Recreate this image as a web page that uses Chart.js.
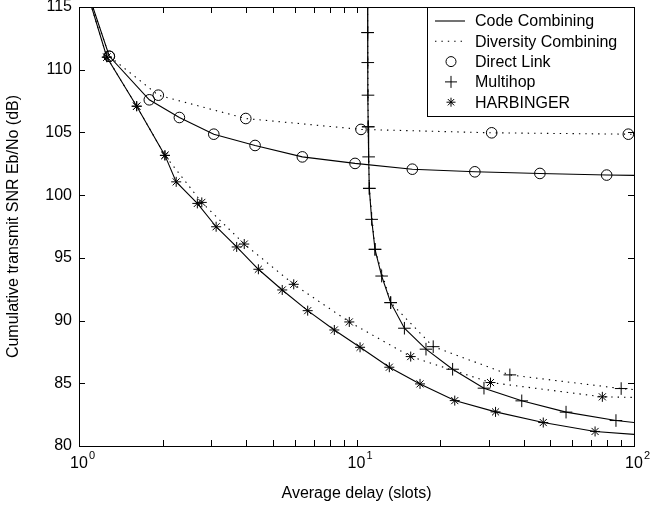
<!DOCTYPE html>
<html><head><meta charset="utf-8">
<script src="https://cdn.jsdelivr.net/npm/chart.js@4/dist/chart.umd.min.js"></script>
<style>html,body{margin:0;padding:0;background:#fff}</style>
</head><body>
<canvas id="c" width="670" height="510"></canvas>
<script>
// ---- data ----
const directCodeX = [1, 1.286, 1.792, 2.30, 3.06, 4.31, 6.38, 9.88, 15.89, 26.7, 45.8, 79.7, 100];
const directCodeY = [118.3, 111.07, 107.6, 106.19, 104.86, 103.96, 103.05, 102.53, 102.07, 101.86, 101.73, 101.6, 101.58];
const directDivX = [1, 1.286, 1.931, 3.99, 10.38, 30.7, 95.4, 100];
const directDivY = [118.3, 111.07, 107.97, 106.11, 105.24, 104.97, 104.86, 104.85];
const multiCodeX = [10.96, 10.97, 10.98, 11.0, 11.02, 11.06, 11.12, 11.34, 11.66, 12.32, 13.28, 14.88, 17.8, 22.2, 28.8, 39.4, 56.9, 86.1, 100];
const multiCodeY = [116, 112.96, 110.57, 107.97, 105.45, 103.05, 100.54, 98.07, 95.68, 93.55, 91.43, 89.39, 87.72, 86.12, 84.61, 83.6, 82.7, 82.03, 81.87];
const multiDivX = [10.96, 10.97, 11.02, 11.12, 11.66, 13.28, 18.9, 35.7, 89.9, 100];
const multiDivY = [116, 112.96, 105.45, 100.54, 95.68, 91.43, 87.92, 85.67, 84.58, 84.5];
const harbCodeX = [1, 1.26, 1.614, 2.04, 2.24, 2.67, 3.12, 3.70, 4.43, 5.40, 6.67, 8.32, 10.3, 13.13, 16.94, 22.6, 31.7, 47.1, 72.4, 100];
const harbCodeY = [118.3, 111.0, 107.09, 103.17, 101.06, 99.34, 97.48, 95.87, 94.09, 92.44, 90.79, 89.25, 87.87, 86.28, 84.95, 83.62, 82.72, 81.87, 81.16, 80.93];
const harbDivX = [1, 1.26, 1.614, 2.04, 2.77, 3.94, 5.94, 9.42, 15.68, 30.4, 76.9, 100];
const harbDivY = [118.3, 111.0, 107.09, 103.17, 99.42, 96.1, 92.89, 89.89, 87.13, 85.06, 83.92, 83.87];

const yTicks = [80, 85, 90, 95, 100, 105, 110, 115];
const xDecades = [1, 10, 100];
const xExponents = ['0', '1', '2'];
const legendLabels = ['Code Combining', 'Diversity Combining', 'Direct Link', 'Multihop', 'HARBINGER'];

const FONT = '"Liberation Sans", Arial, Helvetica, sans-serif';
const DOT = [1.4, 5];

function pts(xs, ys) { return xs.map((x, i) => ({x: x, y: ys[i]})); }
function mk(label, xs, ys, style, r, dotted) {
  return {
    label: label, data: pts(xs, ys),
    borderColor: '#000', borderWidth: 1.1, borderDash: dotted ? DOT : [],
    pointStyle: style,
    pointRadius: c => (c.raw.x <= 1 || c.raw.x >= 100 || c.raw.y > 115) ? 0 : r,
    pointBorderColor: '#000', pointBackgroundColor: 'rgba(0,0,0,0)', pointBorderWidth: 1,
    tension: 0, fill: false
  };
}

const frame = {
  id: 'frame',
  afterDraw(chart) {
    const ctx = chart.ctx, a = chart.chartArea, xs = chart.scales.x, ys = chart.scales.y;
    ctx.save();
    ctx.strokeStyle = '#000'; ctx.lineWidth = 1;
    ctx.strokeRect(Math.round(a.left) + 0.5, Math.round(a.top) + 0.5, Math.round(a.right - a.left), Math.round(a.bottom - a.top));
    const TL = 6;
    ctx.beginPath();
    yTicks.forEach(v => {
      const p = Math.round(ys.getPixelForValue(v)) + 0.5;
      ctx.moveTo(a.left, p); ctx.lineTo(a.left + TL, p);
      ctx.moveTo(a.right, p); ctx.lineTo(a.right - TL, p);
    });
    for (let d = 1; d <= 100; d *= 10) {
      for (let m = 1; m <= 9; m++) {
        const v = d * m; if (v > 100) break;
        const p = Math.round(xs.getPixelForValue(v)) + 0.5;
        ctx.moveTo(p, a.bottom); ctx.lineTo(p, a.bottom - TL);
        ctx.moveTo(p, a.top); ctx.lineTo(p, a.top + TL);
      }
    }
    ctx.stroke();
    // x tick labels with superscript exponents
    ctx.fillStyle = '#000';
    xDecades.forEach((v, i) => {
      const p = xs.getPixelForValue(v);
      ctx.font = '16px ' + FONT; ctx.textAlign = 'center'; ctx.textBaseline = 'middle';
      const w = ctx.measureText('10').width;
      ctx.fillText('10', p, a.bottom + 18);
      ctx.font = '11px ' + FONT; ctx.textAlign = 'left';
      ctx.fillText(xExponents[i], p + w / 2 + 1, a.bottom + 10);
    });
    // legend
    const L = a.right - 207, T = a.top, W = 207, H = 109;
    ctx.fillStyle = '#fff'; ctx.fillRect(L, T, W, H);
    ctx.strokeRect(Math.round(L) + 0.5, Math.round(T) + 0.5, W, H);
    const rows = legendLabels.map((s, i) => T + 14 + i * 20.3);
    ctx.beginPath(); ctx.setLineDash([]); ctx.lineWidth = 1.1;
    ctx.moveTo(L + 8, rows[0]); ctx.lineTo(L + 38, rows[0]); ctx.stroke();
    ctx.beginPath(); ctx.setLineDash(DOT);
    ctx.moveTo(L + 8, rows[1]); ctx.lineTo(L + 38, rows[1]); ctx.stroke();
    ctx.setLineDash([]); ctx.lineWidth = 1;
    const H2 = Chart.helpers;
    H2.drawPoint(ctx, {pointStyle: 'circle', radius: 5, borderWidth: 1}, L + 24, rows[2]);
    H2.drawPoint(ctx, {pointStyle: 'cross', radius: 6, borderWidth: 1}, L + 24, rows[3]);
    H2.drawPoint(ctx, {pointStyle: 'star', radius: 4.5, borderWidth: 1}, L + 24, rows[4]);
    ctx.fillStyle = '#000'; ctx.font = '16px ' + FONT; ctx.textAlign = 'left'; ctx.textBaseline = 'middle';
    legendLabels.forEach((s, i) => ctx.fillText(s, L + 48, rows[i] + 1));
    ctx.restore();
  }
};

new Chart(document.getElementById('c'), {
  type: 'line',
  data: {
    datasets: [
      mk('Direct Link (code)', directCodeX, directCodeY, 'circle', 5.3, false),
      mk('Direct Link (diversity)', directDivX, directDivY, 'circle', 5.3, true),
      mk('Multihop (code)', multiCodeX, multiCodeY, 'cross', 6.3, false),
      mk('Multihop (diversity)', multiDivX, multiDivY, 'cross', 6.3, true),
      mk('HARBINGER (code)', harbCodeX, harbCodeY, 'star', 5, false),
      mk('HARBINGER (diversity)', harbDivX, harbDivY, 'star', 5, true)
    ]
  },
  options: {
    responsive: false, animation: false, devicePixelRatio: 1,
    layout: {padding: {top: 7, right: 36, left: 0, bottom: 0}},
    plugins: {legend: {display: false}, tooltip: {enabled: false}},
    scales: {
      x: {
        type: 'logarithmic', min: 1, max: 100,
        grid: {display: false}, border: {display: false},
        ticks: {display: false},
        title: {display: true, text: 'Average delay (slots)', color: '#000', font: {size: 16, family: FONT}, padding: {top: 0, bottom: 7}},
        afterFit: s => { s.height = 64; s.paddingLeft = 0; s.paddingRight = 0; }
      },
      y: {
        type: 'linear', min: 80, max: 115,
        grid: {display: false, drawTicks: false}, border: {display: false},
        afterBuildTicks: s => { s.ticks = yTicks.map(v => ({value: v})); },
        ticks: {color: '#000', font: {size: 16, family: FONT}, padding: 7},
        title: {display: true, text: 'Cumulative transmit SNR Eb/No (dB)', color: '#000', font: {size: 16, family: FONT}, padding: {top: 4, bottom: 0}},
        afterFit: s => { s.width = 79; s.paddingTop = 0; s.paddingBottom = 0; }
      }
    }
  },
  plugins: [frame]
});
</script>
</body></html>
